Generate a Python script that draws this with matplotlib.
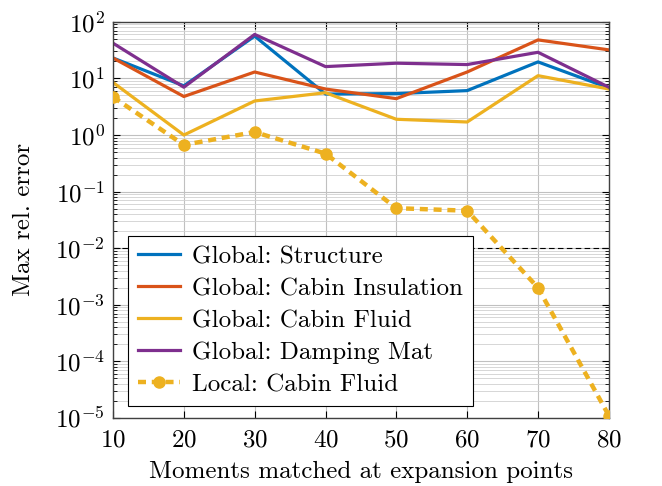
import numpy as np
import matplotlib
matplotlib.use('Agg')
import matplotlib.pyplot as plt
from matplotlib.ticker import LogLocator, NullFormatter

plt.rcParams['font.family'] = 'serif'
plt.rcParams['font.serif'] = ['cmr10']
plt.rcParams['mathtext.fontset'] = 'cm'
plt.rcParams['axes.formatter.use_mathtext'] = True

moments = [10, 20, 30, 40, 50, 60, 70, 80]

structure = [23, 7.4, 56, 5.3, 5.4, 6.1, 19.6, 6.8]
insulation = [23, 4.8, 13, 6.5, 4.4, 13, 48, 32]
fluid = [8.5, 1.0, 4.0, 5.6, 1.9, 1.7, 11.2, 6.5]
damping = [42, 7.0, 60, 16.2, 18.6, 17.6, 29, 7.0]
local_fluid = [4.7, 0.67, 1.13, 0.47, 0.051, 0.046, 0.002, 1.1e-5]

tol = 1e-2

fig = plt.figure(figsize=(6.62, 4.86), dpi=100)
ax = fig.add_axes((0.1707, 0.14, 0.749, 0.815))

ax.axhline(tol, color='k', lw=0.8, ls=(0, (5, 3)), zorder=1.5)

ax.plot(moments, structure, color='#0072BD', lw=2.3, label='Global: Structure')
ax.plot(moments, insulation, color='#D95319', lw=2.3, label='Global: Cabin Insulation')
ax.plot(moments, fluid, color='#EDB120', lw=2.3, label='Global: Cabin Fluid')
ax.plot(moments, damping, color='#7E2F8E', lw=2.3, label='Global: Damping Mat')
ax.plot(moments, local_fluid, color='#EDB120', lw=3.2, ls=(0, (1.8, 1.3)),
        marker='o', ms=8, label='Local: Cabin Fluid', zorder=3)

ax.set_yscale('log')
ax.set_xlim(10, 80)
ax.set_ylim(1e-5, 1e2)
ax.set_yticks([10.0**k for k in range(-5, 3)])
ax.yaxis.set_minor_locator(LogLocator(base=10, subs=np.arange(2, 10), numticks=100))
ax.yaxis.set_minor_formatter(NullFormatter())
ax.set_xticks(moments)

ax.grid(True, which='major', color='#c0c0c0', lw=0.8)
ax.grid(True, which='minor', axis='y', color='#d0d0d0', lw=0.6)
ax.set_axisbelow(True)

ax.tick_params(which='both', direction='in', top=True, right=True, labelsize=18)
ax.tick_params(which='major', length=5)
ax.tick_params(which='minor', length=3)
ax.tick_params(axis='x', pad=8)
ax.tick_params(axis='y', pad=6)
for sp in ax.spines.values():
    sp.set_color('#404040')
    sp.set_linewidth(1.0)

ax.set_xlabel('Moments matched at expansion points', fontsize=18, labelpad=7)
ax.set_ylabel('Max rel. error', fontsize=18, labelpad=14)

leg = ax.legend(loc='lower left', fontsize=18, fancybox=False, framealpha=1,
                edgecolor='k', handlelength=1.7, handletextpad=0.45,
                borderpad=0.4, labelspacing=0.38, borderaxespad=0,
                bbox_to_anchor=(0.03, 0.03))
leg.get_frame().set_linewidth(0.8)

fig.savefig('out.png', dpi=100)
